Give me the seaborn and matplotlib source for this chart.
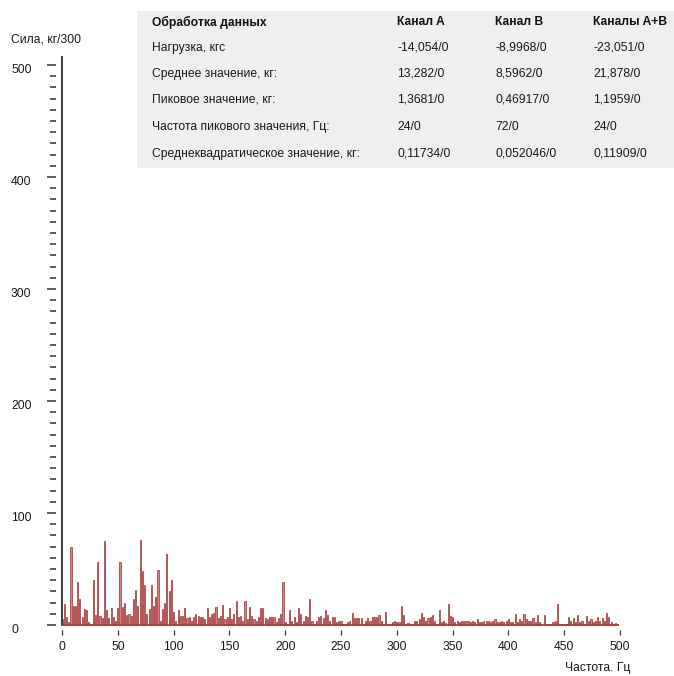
import numpy as np
import pandas as pd
import matplotlib
matplotlib.use("Agg")
import matplotlib.pyplot as plt
import seaborn as sns
from matplotlib import font_manager, transforms
from matplotlib.patches import Rectangle
from matplotlib.ticker import MultipleLocator

# ---------------- data ----------------
freq_hz = list(range(0, 500, 2))
force_values = [
    5, 19, 7, 3, 70, 17, 17, 38, 23, 7,
    14, 13, 3, 1, 40, 9, 56, 8, 6, 75,
    13, 6, 15, 7, 4, 15, 56, 16, 20, 9,
    10, 8, 23, 31, 17, 76, 48, 36, 10, 14,
    36, 17, 25, 49, 4, 14, 20, 63, 30, 40,
    12, 4, 13, 8, 8, 15, 6, 7, 4, 7,
    10, 8,
    7, 7, 5, 15, 7, 10, 11, 16, 6, 8,
    18, 5, 7, 15, 5, 10, 21, 7, 8, 4,
    21, 5, 16, 8, 5, 4, 7, 15, 15, 6,
    5, 7, 7, 7, 3, 6, 10, 38, 3, 1,
    13, 4, 7, 3, 15, 10, 4, 8, 7, 23,
    4, 1, 4, 7, 8, 6, 13, 9, 4, 7,
    7, 3, 4, 4, 1, 1, 3, 4, 11, 6,
    6, 6, 6, 1, 4, 6, 4, 7, 7, 7,
    9, 4, 1, 12, 1, 1, 3, 4, 3, 3,
    17, 9, 1, 2, 1, 1, 4, 4, 5, 11,
    7, 4, 6, 7, 9, 4, 1, 13,
    3, 4, 2, 19, 8, 7, 3, 4, 3, 4,
    4, 4, 4, 3, 4, 3, 5, 3, 3, 4,
    4, 4, 3, 4, 5, 3,
    3, 4, 3, 4, 5, 3, 3, 10, 3, 5,
    4, 10, 5, 4, 4, 6, 3, 9, 3, 1,
    9, 1, 1, 1, 3, 4, 19, 1, 1, 1,
    1, 7, 4, 6, 3, 9, 3, 4, 1, 8,
    4, 5, 3, 4, 7, 4, 6, 4, 11, 7,
    3, 1, 2, 1,
]
x_ticks = [0, 50, 100, 150, 200, 250, 300, 350, 400, 450, 500]
y_ticks = [0, 100, 200, 300, 400, 500]

y_title = "Сила, кг/300"
x_title = "Частота. Гц"

table_header = ["Обработка данных", "Канал A", "Канал B", "Каналы A+B"]
row_labels = ["Нагрузка, кгс", "Среднее значение, кг:", "Пиковое значение, кг:",
              "Частота пикового значения, Гц:", "Среднеквадратическое значение, кг:"]
channel_a = ["-14,054/0", "13,282/0", "1,3681/0", "24/0", "0,11734/0"]
channel_b = ["-8,9968/0", "8,5962/0", "0,46917/0", "72/0", "0,052046/0"]
channel_ab = ["-23,051/0", "21,878/0", "1,1959/0", "24/0", "0,11909/0"]

# ---------------- style ----------------
sns.set_theme(style="white")
plt.rcParams["font.family"] = ["Liberation Sans", "DejaVu Sans"]
fs = 8.7

W, H = 674, 676
fig = plt.figure(figsize=(W / 100, H / 100), dpi=100)
fig.patch.set_facecolor("white")


def fx(px):
    return px / W


def fy(py):
    return 1 - py / H


# table background
fig.add_artist(Rectangle((fx(137), fy(168)), fx(674) - fx(137), fy(11) - fy(168),
                         transform=fig.transFigure, facecolor="#efefef",
                         edgecolor="none", zorder=-1))

ax = fig.add_axes([fx(56), fy(630), fx(622) - fx(56), fy(56) - fy(630)])
ax.patch.set_visible(False)

df = pd.DataFrame({"freq": freq_hz, "force": force_values})
sns.barplot(data=df, x="freq", y="force", native_scale=True, width=0.5,
            color="#cf8585", saturation=1, edgecolor="#a83a3c", linewidth=0.55,
            errorbar=None, ax=ax)

ax.set_xlim(-5.4, 501.8)
ax.set_ylim(-4.46, 508)
ax.set_xlabel("")
ax.set_ylabel("")
ax.grid(False)
for s in ax.spines.values():
    s.set_visible(False)

ax.hlines(0, -0.5, 499, color="#a83a3c", linewidth=1.2, zorder=3)
ax.vlines(0, 0, 508, color="#3a3a3a", linewidth=1.4, zorder=4)

ax.set_xticks(x_ticks)
ax.set_xticklabels([str(t) for t in x_ticks])
ax.tick_params(axis="x", which="major", direction="out", bottom=True, length=3.6,
               width=0.9, color="#333333", pad=4.5, labelsize=fs, labelcolor="#1a1a1a")

ax.set_yticks(y_ticks)
ax.yaxis.set_minor_locator(MultipleLocator(10))
ax.tick_params(axis="y", which="major", direction="out", left=True, length=6.5,
               width=1.1, color="#333333", labelleft=False)
ax.tick_params(axis="y", which="minor", direction="out", left=True, length=4.3,
               width=1.1, color="#333333")

ytrans = transforms.blended_transform_factory(fig.transFigure, ax.transData) + \
    transforms.ScaledTranslation(0, -0.05, fig.dpi_scale_trans)
for v in y_ticks:
    ax.text(fx(11), v, str(v), transform=ytrans, ha="left", va="center",
            fontsize=fs, color="#1a1a1a")

fig.text(fx(11), fy(40), y_title, ha="left", va="center", fontsize=fs, color="#1a1a1a")
fig.text(fx(565), fy(668), x_title, ha="left", va="center", fontsize=fs, color="#1a1a1a")

# table text
col_x = [152, 397, 495, 593]
header_y = 22
row_y = [48, 74, 100, 127, 154]
for cx, t in zip(col_x, table_header):
    fig.text(fx(cx), fy(header_y), t, ha="left", va="center", fontsize=fs,
             fontweight="bold", color="#111111")
for i, ry in enumerate(row_y):
    for cx, t in zip(col_x, [row_labels[i], channel_a[i], channel_b[i], channel_ab[i]]):
        fig.text(fx(cx), fy(ry), t, ha="left", va="center", fontsize=fs, color="#1a1a1a")

fig.savefig("out.png", dpi=100, facecolor="white")
